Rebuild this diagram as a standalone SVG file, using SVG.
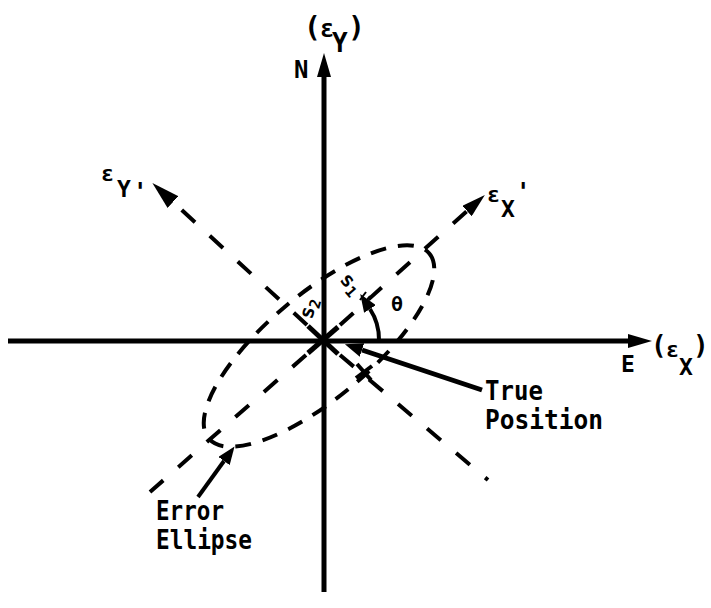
<svg xmlns="http://www.w3.org/2000/svg" width="711" height="608" viewBox="0 0 711 608">
<style>
.ax{stroke:#000;stroke-width:5;fill:none}
.dash{stroke:#000;stroke-width:4;fill:none;stroke-dasharray:18 20}
.ell{stroke:#000;stroke-width:4;fill:none;stroke-dasharray:16 12}
.solid{stroke:#000;stroke-width:4;fill:none}
text{font-family:"DejaVu Sans Mono","Liberation Mono",monospace;font-weight:bold;fill:#000}
</style>
<defs>
<marker id="ah" markerUnits="userSpaceOnUse" markerWidth="26" markerHeight="14" refX="0" refY="7" orient="auto"><path d="M0,0 L24,7 L0,14 z" fill="#000"/></marker>
<marker id="ahd" markerUnits="userSpaceOnUse" markerWidth="30" markerHeight="16" refX="0" refY="8" orient="auto"><path d="M0,0 L28,8 L0,16 z" fill="#000"/></marker>
<marker id="ahs" markerUnits="userSpaceOnUse" markerWidth="20" markerHeight="14" refX="0" refY="7" orient="auto"><path d="M0,0 L18,7 L0,14 z" fill="#000"/></marker>
</defs>
<g id="connectors">
<line class="ax" x1="324" y1="592" x2="324" y2="77" marker-end="url(#ah)"/>
<line class="ax" x1="8" y1="341" x2="628" y2="341" marker-end="url(#ah)"/>
<line class="dash" x1="340" y1="325" x2="467" y2="211" marker-end="url(#ah)"/>
<line class="dash" x1="306" y1="355" x2="150" y2="492"/>
<line class="dash" x1="307" y1="325" x2="173" y2="202" marker-end="url(#ahd)"/>
<line class="dash" x1="340" y1="355" x2="488" y2="480"/>
<line class="ax" x1="308" y1="353" x2="338" y2="327"/>
<line class="ax" x1="308" y1="326" x2="338" y2="354"/>
<line class="ax" x1="482" y1="390" x2="362" y2="350" marker-end="url(#ahs)"/>
<line class="solid" x1="198" y1="497" x2="224" y2="461" marker-end="url(#ahs)"/>
<path class="solid" d="M379,340 A56,56 0 0 0 370,309" marker-end="url(#ahs)"/>
<line class="solid" x1="357" y1="364" x2="371" y2="380"/>
<line class="solid" x1="356" y1="378" x2="372" y2="366"/>
<line class="solid" x1="360" y1="300" x2="366" y2="292" style="stroke-width:2"/>
<line class="solid" x1="364" y1="304" x2="370" y2="296" style="stroke-width:2"/>
</g>
<g id="ellipse">
<ellipse class="ell" cx="319" cy="346" rx="144" ry="52" transform="rotate(-40 319 346)"/>
</g>
<g id="label-north">
<text x="294" y="78" font-size="24">N</text>
<text x="304" y="37" font-size="28">(</text>
<text x="320" y="37" font-size="24">ε</text>
<text x="332" y="52" font-size="26">Y</text>
<text x="348" y="37" font-size="28">)</text>
</g>
<g id="label-east">
<text x="621" y="372" font-size="23">E</text>
<text x="651" y="354" font-size="26">(</text>
<text x="666" y="357" font-size="22">ε</text>
<text x="679" y="375" font-size="23">X</text>
<text x="693" y="354" font-size="26">)</text>
</g>
<g id="label-ey-prime">
<text x="101" y="181" font-size="22">ε</text>
<text x="117" y="197" font-size="23">Y</text>
<text x="133" y="200" font-size="24">'</text>
</g>
<g id="label-ex-prime">
<text x="487" y="202" font-size="22">ε</text>
<text x="501" y="217" font-size="23">X</text>
<text x="516" y="200" font-size="24">'</text>
</g>
<g id="label-theta"><text x="391" y="311" font-size="20">θ</text></g>
<g id="label-s1"><text x="0" y="0" font-size="20" transform="translate(339,280) rotate(49)">s<tspan font-size="15" dy="4">1</tspan></text></g>
<g id="label-s2"><text x="0" y="0" font-size="20" transform="translate(312,320) rotate(-75)">s<tspan font-size="15" dy="4">2</tspan></text></g>
<g id="label-true-position">
<text x="485" y="400" font-size="27" textLength="58" lengthAdjust="spacingAndGlyphs">True</text>
<text x="485" y="429" font-size="27" textLength="118" lengthAdjust="spacingAndGlyphs">Position</text>
</g>
<g id="label-error-ellipse">
<text x="156" y="520" font-size="26" textLength="68" lengthAdjust="spacingAndGlyphs">Error</text>
<text x="156" y="549" font-size="26" textLength="96" lengthAdjust="spacingAndGlyphs">Ellipse</text>
</g>
</svg>
